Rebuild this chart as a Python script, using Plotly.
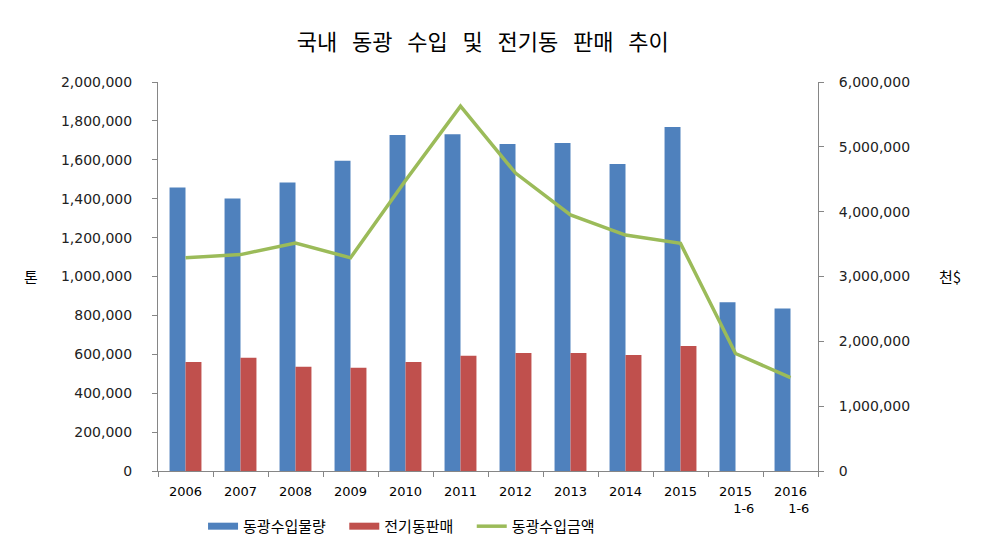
import plotly.graph_objects as go

categories = ["2006", "2007", "2008", "2009", "2010", "2011", "2012", "2013",
              "2014", "2015", "2015<br>\u00a0\u00a0\u00a0\u00a01-6", "2016<br>\u00a0\u00a0\u00a0\u00a01-6"]
import_volume = [1457000, 1401000, 1483000, 1595000, 1727000, 1732000,
                 1681000, 1686000, 1579000, 1768000, 867000, 836000]
cathode_sales = [561000, 582000, 536000, 531000, 561000, 592000,
                 607000, 607000, 597000, 643000, None, None]
import_value = [3288000, 3338000, 3517000, 3288000, 4480000, 5628000,
                4595000, 3949000, 3639000, 3511000, 1812000, 1440000]

left_ticks = list(range(0, 2000001, 200000))
right_ticks = list(range(0, 6000001, 1000000))

BLUE, RED, GREEN = "#4F81BD", "#C0504D", "#9BBB59"
FONT = "Noto Sans CJK KR"
TICKFONT = dict(family="DejaVu Sans", size=14, color="#222222")
SP = "\u00a0\u00a0 "
PAD = "\u00a0\u00a0\u00a0\u00a0"

fig = go.Figure()
fig.add_trace(go.Bar(x=categories, y=import_volume, name="동광수입물량",
                     showlegend=False, marker=dict(color=BLUE, line=dict(width=0))))
fig.add_trace(go.Bar(x=categories, y=cathode_sales, name="전기동판매",
                     showlegend=False, marker=dict(color=RED, line=dict(width=0))))
fig.add_trace(go.Scatter(x=categories, y=import_value, name="동광수입금액",
                         mode="lines", yaxis="y2", showlegend=False,
                         line=dict(color=GREEN, width=3.5)))
# legend entries (flat wide swatches like the reference)
fig.add_trace(go.Scatter(x=[None], y=[None], mode="lines", name="동광수입물량" + PAD,
                         line=dict(color=BLUE, width=7)))
fig.add_trace(go.Scatter(x=[None], y=[None], mode="lines", name="전기동판매" + PAD,
                         line=dict(color=RED, width=7)))
fig.add_trace(go.Scatter(x=[None], y=[None], mode="lines", name="동광수입금액",
                         line=dict(color=GREEN, width=3.5)))

fig.update_layout(
    width=979, height=547,
    margin=dict(l=150, r=169, t=74, b=77),
    paper_bgcolor="white", plot_bgcolor="white",
    barmode="group", bargap=0.42, bargroupgap=0,
    title=dict(text=SP.join(["국내", "동광", "수입", "및", "전기동", "판매", "추이"]),
               x=0.485, xanchor="center", y=0.938, yanchor="middle",
               font=dict(family=FONT, size=22, color="black")),
    font=dict(family=FONT, color="black"),
    xaxis=dict(showline=True, linecolor="#868686", linewidth=1,
               ticks="outside", tickson="boundaries", ticklen=5, tickcolor="#868686",
               tickfont=dict(family="DejaVu Sans", size=13, color="black"),
               ticklabelstandoff=8, showgrid=False),
    yaxis=dict(range=[0, 2000000], tickvals=left_ticks, tickformat=",d",
               showline=True, linecolor="#868686", linewidth=1,
               ticks="outside", ticklen=5, tickcolor="#868686",
               tickfont=TICKFONT, ticklabelstandoff=17,
               showgrid=False, zeroline=False),
    yaxis2=dict(range=[0, 6000000], tickvals=right_ticks, tickformat=",d",
                overlaying="y", side="right",
                showline=True, linecolor="#868686", linewidth=1,
                ticks="outside", ticklen=5, tickcolor="#868686",
                tickfont=TICKFONT, ticklabelstandoff=12,
                showgrid=False, zeroline=False),
    legend=dict(orientation="h", x=0.369, xanchor="center", y=-0.1425, yanchor="middle",
                font=dict(family=FONT, size=15, color="black"),
                traceorder="normal"),
    annotations=[
        dict(text="톤", xref="paper", yref="paper", x=-0.192, y=0.5,
             xanchor="center", yanchor="middle",
             showarrow=False, font=dict(family=FONT, size=15, color="black")),
        dict(text="천$", xref="paper", yref="paper", x=1.2, y=0.5,
             xanchor="center", yanchor="middle",
             showarrow=False, font=dict(family=FONT, size=15, color="black")),
    ],
)

fig.write_html("out.html")
